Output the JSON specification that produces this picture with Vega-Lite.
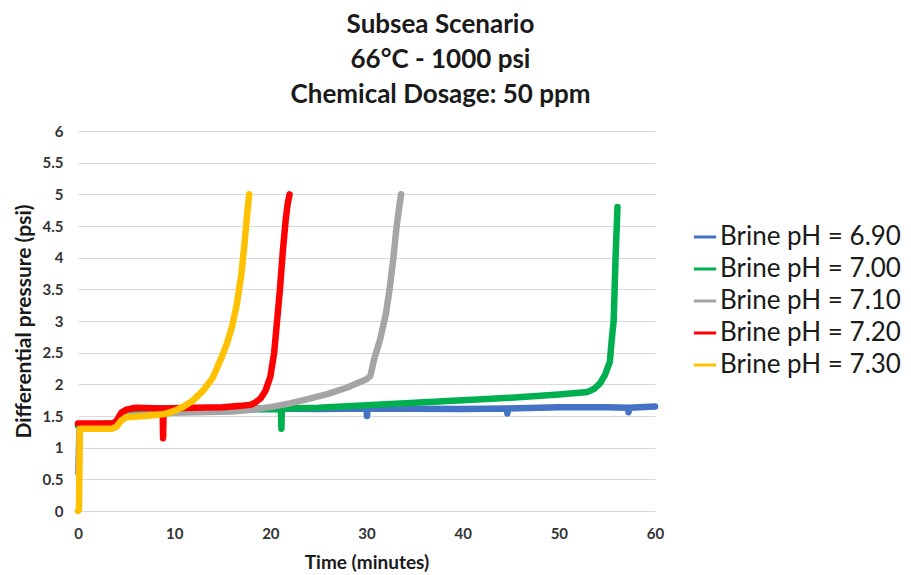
{
  "$schema": "https://vega.github.io/schema/vega-lite/v6.json",
  "autosize": "none",
  "width": 577,
  "height": 380,
  "padding": {"left": 78, "top": 131, "right": 256, "bottom": 64},
  "background": "white",
  "config": {
    "font": "Lato",
    "view": {"stroke": null}
  },
  "title": {
    "text": ["Subsea Scenario", "66°C - 1000 psi", "Chemical Dosage: 50 ppm"],
    "font": "Lato",
    "fontSize": 26,
    "fontWeight": "bold",
    "color": "#1a1a1a",
    "lineHeight": 35,
    "anchor": "middle",
    "dx": 74,
    "offset": 16
  },
  "data": {
    "values": [
      {"t": 0, "dp": 1.35, "s": "Brine pH = 6.90"},
      {"t": 3.8, "dp": 1.38, "s": "Brine pH = 6.90"},
      {"t": 5, "dp": 1.58, "s": "Brine pH = 6.90"},
      {"t": 6, "dp": 1.62, "s": "Brine pH = 6.90"},
      {"t": 15, "dp": 1.62, "s": "Brine pH = 6.90"},
      {"t": 25, "dp": 1.61, "s": "Brine pH = 6.90"},
      {"t": 30, "dp": 1.62, "s": "Brine pH = 6.90"},
      {"t": 30.05, "dp": 1.5, "s": "Brine pH = 6.90"},
      {"t": 30.1, "dp": 1.62, "s": "Brine pH = 6.90"},
      {"t": 40, "dp": 1.61, "s": "Brine pH = 6.90"},
      {"t": 44.6, "dp": 1.62, "s": "Brine pH = 6.90"},
      {"t": 44.65, "dp": 1.54, "s": "Brine pH = 6.90"},
      {"t": 44.7, "dp": 1.62, "s": "Brine pH = 6.90"},
      {"t": 50, "dp": 1.64, "s": "Brine pH = 6.90"},
      {"t": 55, "dp": 1.64, "s": "Brine pH = 6.90"},
      {"t": 57.2, "dp": 1.63, "s": "Brine pH = 6.90"},
      {"t": 57.25, "dp": 1.56, "s": "Brine pH = 6.90"},
      {"t": 57.3, "dp": 1.63, "s": "Brine pH = 6.90"},
      {"t": 60, "dp": 1.65, "s": "Brine pH = 6.90"},

      {"t": 0, "dp": 1.35, "s": "Brine pH = 7.00"},
      {"t": 3.8, "dp": 1.38, "s": "Brine pH = 7.00"},
      {"t": 5, "dp": 1.58, "s": "Brine pH = 7.00"},
      {"t": 10, "dp": 1.6, "s": "Brine pH = 7.00"},
      {"t": 21.1, "dp": 1.61, "s": "Brine pH = 7.00"},
      {"t": 21.15, "dp": 1.3, "s": "Brine pH = 7.00"},
      {"t": 21.2, "dp": 1.62, "s": "Brine pH = 7.00"},
      {"t": 25, "dp": 1.63, "s": "Brine pH = 7.00"},
      {"t": 30, "dp": 1.67, "s": "Brine pH = 7.00"},
      {"t": 35, "dp": 1.71, "s": "Brine pH = 7.00"},
      {"t": 40, "dp": 1.75, "s": "Brine pH = 7.00"},
      {"t": 45, "dp": 1.79, "s": "Brine pH = 7.00"},
      {"t": 50, "dp": 1.84, "s": "Brine pH = 7.00"},
      {"t": 53, "dp": 1.88, "s": "Brine pH = 7.00"},
      {"t": 53.7, "dp": 1.93, "s": "Brine pH = 7.00"},
      {"t": 54.3, "dp": 2.02, "s": "Brine pH = 7.00"},
      {"t": 54.8, "dp": 2.15, "s": "Brine pH = 7.00"},
      {"t": 55.3, "dp": 2.35, "s": "Brine pH = 7.00"},
      {"t": 55.5, "dp": 2.7, "s": "Brine pH = 7.00"},
      {"t": 55.7, "dp": 3.0, "s": "Brine pH = 7.00"},
      {"t": 55.8, "dp": 3.5, "s": "Brine pH = 7.00"},
      {"t": 55.9, "dp": 4.0, "s": "Brine pH = 7.00"},
      {"t": 56.0, "dp": 4.4, "s": "Brine pH = 7.00"},
      {"t": 56.1, "dp": 4.8, "s": "Brine pH = 7.00"},

      {"t": 0, "dp": 0.6, "s": "Brine pH = 7.10"},
      {"t": 0.15, "dp": 1.3, "s": "Brine pH = 7.10"},
      {"t": 3.5, "dp": 1.32, "s": "Brine pH = 7.10"},
      {"t": 4.5, "dp": 1.45, "s": "Brine pH = 7.10"},
      {"t": 5, "dp": 1.5, "s": "Brine pH = 7.10"},
      {"t": 10, "dp": 1.55, "s": "Brine pH = 7.10"},
      {"t": 16, "dp": 1.57, "s": "Brine pH = 7.10"},
      {"t": 18, "dp": 1.6, "s": "Brine pH = 7.10"},
      {"t": 20, "dp": 1.64, "s": "Brine pH = 7.10"},
      {"t": 22, "dp": 1.7, "s": "Brine pH = 7.10"},
      {"t": 24, "dp": 1.77, "s": "Brine pH = 7.10"},
      {"t": 26, "dp": 1.85, "s": "Brine pH = 7.10"},
      {"t": 28, "dp": 1.95, "s": "Brine pH = 7.10"},
      {"t": 30, "dp": 2.08, "s": "Brine pH = 7.10"},
      {"t": 30.4, "dp": 2.13, "s": "Brine pH = 7.10"},
      {"t": 30.8, "dp": 2.4, "s": "Brine pH = 7.10"},
      {"t": 31.4, "dp": 2.7, "s": "Brine pH = 7.10"},
      {"t": 32, "dp": 3.1, "s": "Brine pH = 7.10"},
      {"t": 32.4, "dp": 3.5, "s": "Brine pH = 7.10"},
      {"t": 32.8, "dp": 4.0, "s": "Brine pH = 7.10"},
      {"t": 33.1, "dp": 4.45, "s": "Brine pH = 7.10"},
      {"t": 33.4, "dp": 4.8, "s": "Brine pH = 7.10"},
      {"t": 33.6, "dp": 5.0, "s": "Brine pH = 7.10"},

      {"t": 0, "dp": 1.38, "s": "Brine pH = 7.20"},
      {"t": 3.6, "dp": 1.38, "s": "Brine pH = 7.20"},
      {"t": 4.0, "dp": 1.42, "s": "Brine pH = 7.20"},
      {"t": 4.5, "dp": 1.55, "s": "Brine pH = 7.20"},
      {"t": 5.0, "dp": 1.6, "s": "Brine pH = 7.20"},
      {"t": 6, "dp": 1.63, "s": "Brine pH = 7.20"},
      {"t": 8.8, "dp": 1.62, "s": "Brine pH = 7.20"},
      {"t": 8.85, "dp": 1.15, "s": "Brine pH = 7.20"},
      {"t": 8.9, "dp": 1.62, "s": "Brine pH = 7.20"},
      {"t": 12, "dp": 1.63, "s": "Brine pH = 7.20"},
      {"t": 15, "dp": 1.64, "s": "Brine pH = 7.20"},
      {"t": 17, "dp": 1.66, "s": "Brine pH = 7.20"},
      {"t": 18, "dp": 1.68, "s": "Brine pH = 7.20"},
      {"t": 18.5, "dp": 1.72, "s": "Brine pH = 7.20"},
      {"t": 19, "dp": 1.78, "s": "Brine pH = 7.20"},
      {"t": 19.5, "dp": 1.9, "s": "Brine pH = 7.20"},
      {"t": 20, "dp": 2.12, "s": "Brine pH = 7.20"},
      {"t": 20.4, "dp": 2.5, "s": "Brine pH = 7.20"},
      {"t": 20.7, "dp": 3.0, "s": "Brine pH = 7.20"},
      {"t": 21, "dp": 3.5, "s": "Brine pH = 7.20"},
      {"t": 21.3, "dp": 4.1, "s": "Brine pH = 7.20"},
      {"t": 21.6, "dp": 4.6, "s": "Brine pH = 7.20"},
      {"t": 21.8, "dp": 4.85, "s": "Brine pH = 7.20"},
      {"t": 22, "dp": 5.0, "s": "Brine pH = 7.20"},

      {"t": 0, "dp": 0, "s": "Brine pH = 7.30"},
      {"t": 0.1, "dp": 0.02, "s": "Brine pH = 7.30"},
      {"t": 0.15, "dp": 0.7, "s": "Brine pH = 7.30"},
      {"t": 0.2, "dp": 1.3, "s": "Brine pH = 7.30"},
      {"t": 3.5, "dp": 1.3, "s": "Brine pH = 7.30"},
      {"t": 4.0, "dp": 1.33, "s": "Brine pH = 7.30"},
      {"t": 4.5, "dp": 1.43, "s": "Brine pH = 7.30"},
      {"t": 5, "dp": 1.48, "s": "Brine pH = 7.30"},
      {"t": 7, "dp": 1.5, "s": "Brine pH = 7.30"},
      {"t": 9, "dp": 1.53, "s": "Brine pH = 7.30"},
      {"t": 10, "dp": 1.58, "s": "Brine pH = 7.30"},
      {"t": 11, "dp": 1.65, "s": "Brine pH = 7.30"},
      {"t": 12, "dp": 1.75, "s": "Brine pH = 7.30"},
      {"t": 13, "dp": 1.9, "s": "Brine pH = 7.30"},
      {"t": 14, "dp": 2.1, "s": "Brine pH = 7.30"},
      {"t": 15, "dp": 2.45, "s": "Brine pH = 7.30"},
      {"t": 15.5, "dp": 2.65, "s": "Brine pH = 7.30"},
      {"t": 16, "dp": 2.9, "s": "Brine pH = 7.30"},
      {"t": 16.5, "dp": 3.25, "s": "Brine pH = 7.30"},
      {"t": 17, "dp": 3.75, "s": "Brine pH = 7.30"},
      {"t": 17.3, "dp": 4.2, "s": "Brine pH = 7.30"},
      {"t": 17.6, "dp": 4.7, "s": "Brine pH = 7.30"},
      {"t": 17.8, "dp": 5.0, "s": "Brine pH = 7.30"}
    ]
  },
  "mark": {"type": "line", "strokeWidth": 6.5, "strokeCap": "round", "strokeJoin": "round"},
  "encoding": {
    "x": {
      "field": "t",
      "type": "quantitative",
      "scale": {"domain": [0, 60], "nice": false, "zero": false},
      "axis": {
        "values": [0, 10, 20, 30, 40, 50, 60],
        "format": "d",
        "labelFlush": false,
        "title": "Time (minutes)",
        "titleFont": "Lato",
        "titleFontSize": 19,
        "titleFontWeight": "bold",
        "titleColor": "#1a1a1a",
        "titlePadding": 12,
        "labelFont": "Lato",
        "labelFontSize": 15,
        "labelFontWeight": "bold",
        "labelColor": "#333333",
        "labelPadding": 15,
        "grid": false,
        "domain": false,
        "ticks": false
      }
    },
    "y": {
      "field": "dp",
      "type": "quantitative",
      "scale": {"domain": [0, 6], "nice": false},
      "axis": {
        "values": [0, 0.5, 1, 1.5, 2, 2.5, 3, 3.5, 4, 4.5, 5, 5.5, 6],
        "format": "~g",
        "labelFlush": false,
        "title": "Differential pressure (psi)",
        "titleFont": "Lato",
        "titleFontSize": 21,
        "titleFontWeight": "bold",
        "titleColor": "#1a1a1a",
        "titlePadding": 8,
        "labelFont": "Lato",
        "labelFontSize": 15,
        "labelFontWeight": "bold",
        "labelColor": "#333333",
        "labelPadding": 15,
        "grid": true,
        "gridColor": "#d9d9d9",
        "gridWidth": 1.2,
        "domain": false,
        "ticks": false
      }
    },
    "color": {
      "field": "s",
      "type": "nominal",
      "scale": {
        "domain": ["Brine pH = 6.90", "Brine pH = 7.00", "Brine pH = 7.10", "Brine pH = 7.20", "Brine pH = 7.30"],
        "range": ["#4472C4", "#00B050", "#A5A5A5", "#FF0000", "#FFC000"]
      },
      "legend": {
        "title": null,
        "orient": "none",
        "legendX": 614,
        "legendY": 93,
        "symbolType": "stroke",
        "symbolSize": 500,
        "symbolStrokeWidth": 3,
        "labelFont": "Lato",
        "labelFontSize": 26,
        "labelColor": "#1a1a1a",
        "labelOffset": 2,
        "rowPadding": 6,
        "labelLimit": 300
      }
    },
    "order": {"field": "t", "type": "quantitative"}
  }
}
